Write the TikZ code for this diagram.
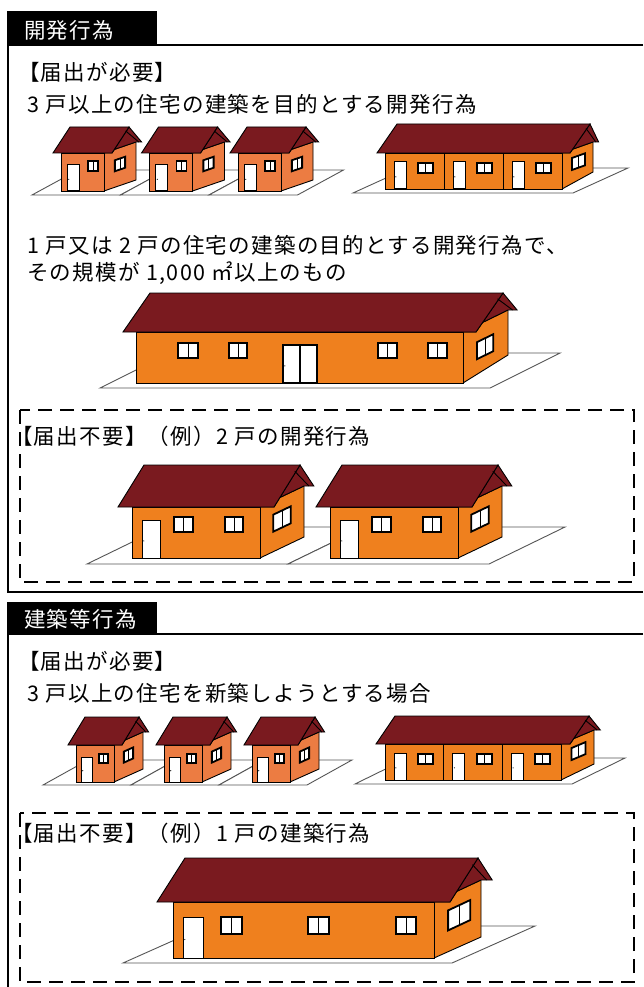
\documentclass[tikz,border=0pt]{standalone}
\usepackage{fontspec}
\setmainfont{Noto Sans CJK JP}
\definecolor{roofc}{HTML}{7A1A1F}
\definecolor{wallA}{HTML}{EC7C42}
\definecolor{wallB}{HTML}{EF801E}
\definecolor{platec}{HTML}{555555}
\tikzset{
  hline/.style={draw=black,line width=0.9pt},
  winst/.style={fill=white,draw=black,line width=1.8pt},
  doorst/.style={fill=white,draw=black,line width=1pt},
  platest/.style={fill=white,draw=platec,line width=0.9pt},
  txt/.style={font=\fontsize{21.5}{24}\selectfont\addfontfeature{LetterSpace=6},inner sep=0pt,anchor=west},
  tabtxt/.style={txt,text=white},
  frame/.style={draw=black,line width=2.2pt},
  dashbox/.style={draw=black,line width=1.6pt,dash pattern=on 14pt off 8pt}
}
\newcommand\hsetup[8]{\def\hW{#1}\def\hH{#2}\def\hDx{#3}\def\hDy{#4}\def\hDyb{#5}\def\hO{#6}\def\hRx{#7}\def\hRy{#8}}
\newcommand\hhull[1]{%
  \filldraw[fill=#1,hline] (\hW,0) -- ({\hW+\hDx},\hDyb) -- ({\hW+\hDx},{\hH+\hDy}) -- (\hW,\hH) -- cycle;
  \filldraw[fill=roofc,hline] (\hW,\hH) -- ({\hW+\hO},\hH) -- ({\hW+\hO+\hRx},{\hH+\hRy}) -- ({\hW+\hDx+0.7*\hO},{\hH+\hDy}) -- ({\hW+\hDx},{\hH+\hDy}) -- cycle;
  \filldraw[fill=#1,hline] (0,0) rectangle (\hW,\hH);
  \filldraw[fill=roofc,hline] ({-\hO},\hH) -- ({\hW+\hO},\hH) -- ({\hW+\hO+\hRx},{\hH+\hRy}) -- ({\hRx-\hO},{\hH+\hRy}) -- cycle;
  \draw[hline] ({\hW+\hO+0.8*\hRx},{\hH+0.85*\hRy}) -- ({\hW+\hDx+0.35*\hO},{\hH+\hDy});
}
\newcommand\fwin[4]{\filldraw[winst] (#1,#3) rectangle (#2,#4); \draw[hline] ({(#1+#2)/2},#3) -- ({(#1+#2)/2},#4);}
\newcommand\fdoor[3]{\filldraw[doorst] (#1,0) rectangle (#2,#3); \fill ({#1+1.8},{0.45*#3}) circle (0.6);}
\newcommand\ddoor[3]{\filldraw[doorst,line width=1.4pt] (#1,0) rectangle (#2,#3); \draw[line width=1.4pt] ({(#1+#2)/2},0) -- ({(#1+#2)/2},#3); \fill ({#1+1.8},{0.45*#3}) circle (0.6);}
\newcommand\swin[4]{\filldraw[winst] ({\hW+#1*\hDx},{#1*\hDy+#3}) -- ({\hW+#2*\hDx},{#2*\hDy+#3}) -- ({\hW+#2*\hDx},{#2*\hDy+#4}) -- ({\hW+#1*\hDx},{#1*\hDy+#4}) -- cycle;
  \draw[hline] ({\hW+(#1+#2)/2*\hDx},{(#1+#2)/2*\hDy+#3}) -- ({\hW+(#1+#2)/2*\hDx},{(#1+#2)/2*\hDy+#4});}
\newcommand\plate[5]{\filldraw[platest] (#1,#2) -- ++(#3,0) -- ++(#4,#5) -- ++({-#3},0) -- cycle;}
\newcommand\smallA{\hsetup{43}{38}{32}{11}{11}{8}{17}{26}\hhull{wallA}\fdoor{6}{18}{26}\fwin{27}{37}{20}{30}\swin{0.34}{0.66}{16}{27}}
\newcommand\smallB{\hsetup{38}{37}{29}{13}{13}{8}{17}{28}\hhull{wallA}\fdoor{5}{16}{25}\fwin{23}{32}{19}{28}\swin{0.34}{0.66}{15}{26}}
\newcommand\longunits[1]{%
  \foreach \u in {0,1,2}{%
    \pgfmathsetmacro\ux{\u*#1}
    \fdoor{\ux+9}{\ux+21}{27}\fwin{\ux+33}{\ux+48}{16}{26}}
  \draw[hline] (#1,0) -- (#1,\hH); \draw[hline] ({2*#1},0) -- ({2*#1},\hH);}
\begin{document}
\begin{tikzpicture}[x=1pt,y=-1pt]
\useasboundingbox (0,0) rectangle (643,987);
\fill[white] (0,0) rectangle (643,987);
% ---------- section 1 ----------
\fill[black] (7,11) rectangle (157,46);
\node[tabtxt] (tab1) at (24,30) {開発行為};
\draw[frame] (643,45) -- (8,45) -- (8,592) -- (643,592);
\node[txt] (need1) at (18,72) {【届出が必要】};
\node[txt] (l1) at (27,104) {3\hspace{0.3em}戸以上の住宅の建築を目的とする開発行為};
\node[txt] (l2) at (27,245) {1\hspace{0.3em}戸又は\hspace{0.3em}2\hspace{0.3em}戸の住宅の建築の目的とする開発行為で、};
\node[txt] (l3) at (27,273) {その規模が\hspace{0.3em}1,000\hspace{0.3em}㎡以上のもの};
% plates
\plate{32}{195}{88.5}{46}{-25}\plate{120.5}{195}{88.5}{46}{-25}\plate{209}{195}{88.5}{46}{-25}
\plate{353}{193}{220}{55}{-25}
\plate{100}{388}{390}{70}{-35}
% small houses
\begin{scope}[shift={(61,191)},yscale=-1]\smallA\end{scope}
\begin{scope}[shift={(149.5,191)},yscale=-1]\smallA\end{scope}
\begin{scope}[shift={(238,191)},yscale=-1]\smallA\end{scope}
% long house
\begin{scope}[shift={(385,189)},yscale=-1]
  \hsetup{177}{36}{31}{11}{17}{8}{20}{29}\hhull{wallB}\longunits{59}\swin{0.32}{0.74}{15.5}{27.5}
\end{scope}
% big house
\begin{scope}[shift={(136,383)},yscale=-1]
  \hsetup{327}{51}{45}{22}{28}{13}{27}{39}\hhull{wallB}
  \fwin{42}{62}{25}{40}\fwin{93}{111}{25}{40}\fwin{242}{261}{25}{40}\fwin{292}{311}{25}{40}
  \ddoor{147}{181}{38}\swin{0.31}{0.67}{17}{34}
\end{scope}
% not needed box 1
\draw[dashbox] (20,410) rectangle (634,582);
\node[txt] (no1) at (11,436) {【届出不要】（例）2\hspace{0.3em}戸の開発行為};
\plate{87}{564}{201}{76}{-37}\plate{288}{564}{201}{76}{-37}
\foreach \hx in {132,330}{
\begin{scope}[shift={(\hx,558)},yscale=-1]
  \hsetup{128}{51}{44}{21}{21}{14}{26}{42}\hhull{wallB}
  \fdoor{10}{28}{38}\fwin{42}{61}{26}{41}\fwin{93}{111}{26}{41}\swin{0.3}{0.7}{20}{37}
\end{scope}}
% ---------- section 2 ----------
\fill[black] (7,602) rectangle (157,635);
\node[tabtxt] (tab2) at (24,619) {建築等行為};
\draw[frame] (643,634) -- (8,634) -- (8,990);
\node[txt] (need2) at (18,661) {【届出が必要】};
\node[txt] (l4) at (27,693) {3\hspace{0.3em}戸以上の住宅を新築しようとする場合};
\plate{43}{785}{88}{45}{-25}\plate{131}{785}{88}{45}{-25}\plate{219}{785}{88}{45}{-25}
\plate{355}{784}{217}{53}{-26}
\foreach \hx in {76,164,252}{
\begin{scope}[shift={(\hx,782)},yscale=-1]\smallB\end{scope}}
\begin{scope}[shift={(385,780)},yscale=-1]
  \hsetup{176}{36}{33}{14}{16}{9}{19}{28}\hhull{wallB}\longunits{58.67}\swin{0.32}{0.74}{15.5}{27.5}
\end{scope}
\draw[dashbox] (20,813) rectangle (634,982);
\node[txt] (no2) at (11,833) {【届出不要】（例）1\hspace{0.3em}戸の建築行為};
\plate{123}{963}{329}{83}{-37}
\begin{scope}[shift={(173,958)},yscale=-1]
  \hsetup{261}{56}{47}{22}{21}{16}{28}{44}\hhull{wallB}
  \fdoor{10}{30}{41}\fwin{48}{69}{24}{41}\fwin{135}{156}{24}{41}\fwin{223}{243}{24}{41}\swin{0.3}{0.77}{21}{41}
\end{scope}
\end{tikzpicture}
\end{document}
